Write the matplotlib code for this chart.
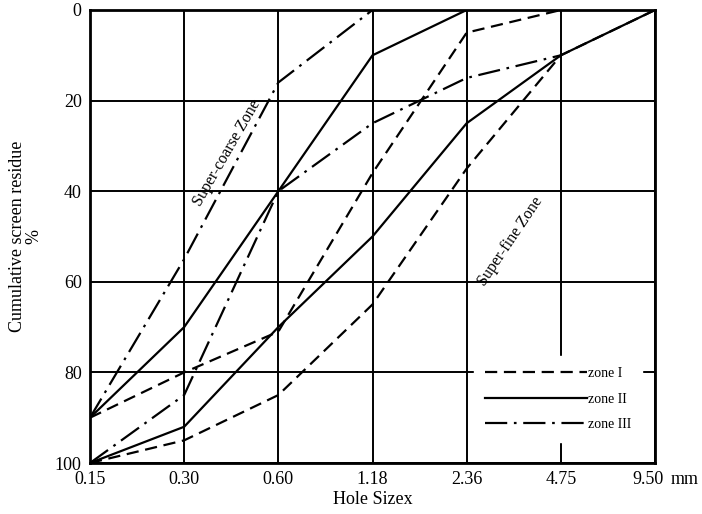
import matplotlib
matplotlib.use("Agg")
import matplotlib.pyplot as plt
from matplotlib.lines import Line2D
from matplotlib.transforms import ScaledTranslation

plt.rcParams['font.family'] = ['Liberation Serif', 'DejaVu Serif']

sizes = ["0.15", "0.30", "0.60", "1.18", "2.36", "4.75", "9.50"]
yticks = [0, 20, 40, 60, 80, 100]

zone1_coarse = [100, 95, 85, 65, 35, 10, 0]
zone1_fine = [90, 80, 71, 36, 5, 0]
zone2_coarse = [100, 92, 70, 50, 25, 10, 0]
zone2_fine = [90, 70, 40, 10, 0]
zone3_coarse = [100, 85, 40, 25, 15, 10]
zone3_fine = [90, 55, 16, 0]

zone_labels = ["zone I", "zone II", "zone III"]

DASH = (0, (5.5, 3))
DASHDOT = (0, (10, 3, 1.2, 3))
SOLID = '-'
LW = 1.6

fig = plt.figure(figsize=(7.02, 5.14), dpi=100)
ax = fig.add_axes([90/702, 1-463/514, (655-90)/702, (463-10)/514])

x = list(range(len(sizes)))

def draw(vals, ls, z):
    ax.plot(x[:len(vals)], vals, color='black', linestyle=ls, lw=LW, zorder=z)

draw(zone1_coarse, DASH, 3)
draw(zone1_fine, DASH, 3)
draw(zone3_coarse, DASHDOT, 3)
draw(zone3_fine, DASHDOT, 3)
draw(zone2_coarse, SOLID, 4)
draw(zone2_fine, SOLID, 4)

ax.set_xlim(0, len(sizes) - 1)
ax.set_ylim(100, 0)
ax.set_xticks(x)
ax.set_xticklabels(sizes, fontsize=13)
ax.set_yticks(yticks)
ax.set_yticklabels([str(v) for v in yticks], fontsize=13)
ax.tick_params(length=0, pad=6)
ax.grid(True, color='black', lw=1.4)
ax.set_axisbelow(True)
for s in ax.spines.values():
    s.set_linewidth(2)

last = ax.get_xticklabels()[-1]
last.set_transform(last.get_transform() + ScaledTranslation(-7/100, 0, fig.dpi_scale_trans))

ax.set_xlabel("Hole Sizex", fontsize=13, labelpad=2)
ax.set_ylabel("Cumulative screen residue\n%", fontsize=13, linespacing=0.9)
ax.yaxis.set_label_coords(-0.085, 0.5)

ax.annotate("mm", xy=(1, 0), xycoords='axes fraction', xytext=(11.5, -6),
            textcoords='offset points', ha='left', va='top', fontsize=13)

ax.text(1.45, 31.5, "Super-coarse Zone", rotation=60, ha='center', va='center',
        fontsize=11.5, rotation_mode='anchor')
ax.text(4.46, 51, "Super-fine Zone", rotation=56, ha='center', va='center',
        fontsize=11.5, rotation_mode='anchor')

handles = [Line2D([], [], color='black', lw=LW, linestyle=DASH),
           Line2D([], [], color='black', lw=LW, linestyle=SOLID),
           Line2D([], [], color='black', lw=LW, linestyle=DASHDOT)]
leg = ax.legend(handles, zone_labels, loc='lower right', bbox_to_anchor=(0.99, 0.03),
                fontsize=10, handlelength=7.3, handletextpad=0.1, labelspacing=0.9,
                frameon=True, fancybox=False, facecolor='white', edgecolor='white',
                framealpha=1, borderpad=0.8)
leg.set_zorder(10)

fig.savefig("out.png", dpi=100)
